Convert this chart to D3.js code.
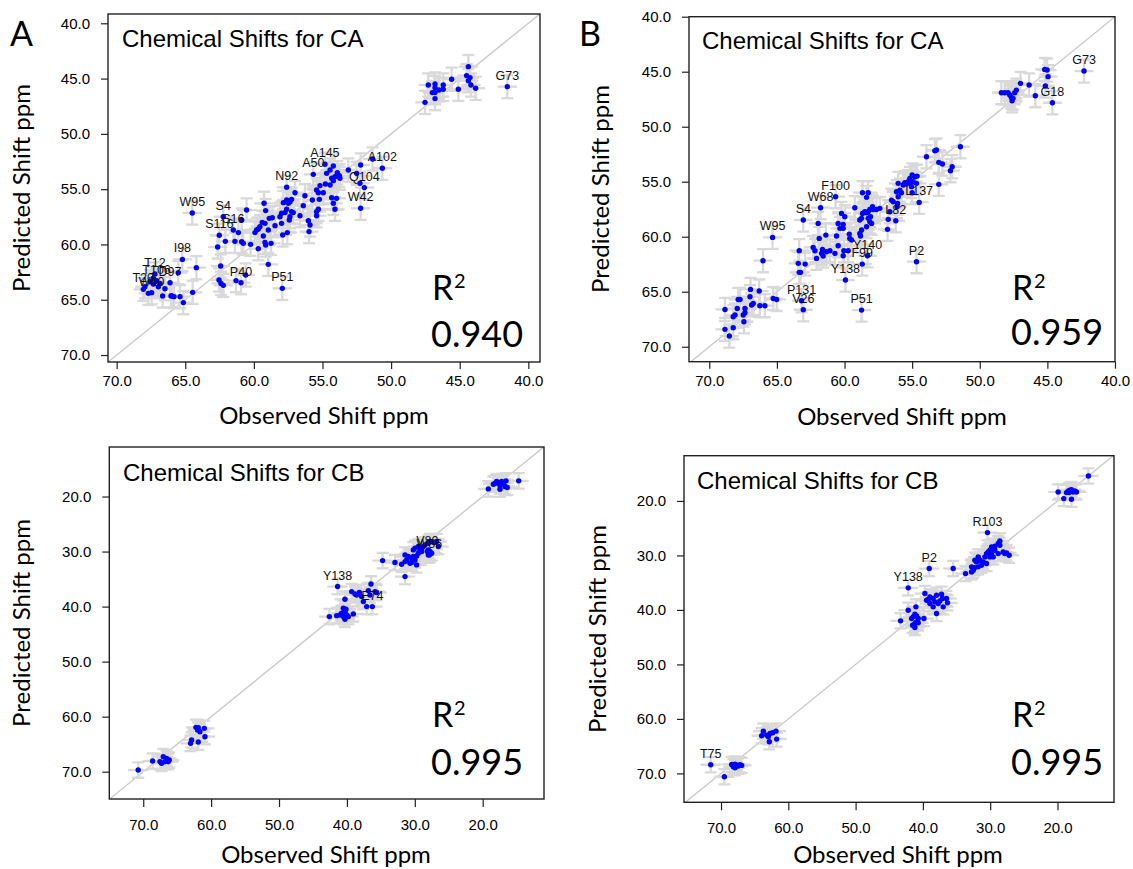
<!DOCTYPE html>
<html><head><meta charset="utf-8">
<script src="https://cdn.jsdelivr.net/npm/d3@7"></script>
<style>body{margin:0;background:#fff}</style>
</head><body>
<svg id="c" width="1133" height="869"></svg>
<script>
// ---------- tick labels ----------
const caTicks = [70, 65, 60, 55, 50, 45, 40];
const cbTicks = [70, 60, 50, 40, 30, 20];

// ---------- R^2 values ----------
const r2Values = ["0.940", "0.959", "0.995", "0.995"];

// ---------- error bar half-widths (ppm) ----------
const caErr = [0.7, 1.05];   // [observed, predicted]
const cbErr = [1.5, 1.4];

// ---------- Panel A, CA : [observed, predicted] ----------
const aCA_points = [
 [44.37,43.92],[44.50,44.73],[44.25,44.91],[44.37,45.19],[44.18,45.58],[43.84,45.88],[45.59,45.06],[45.10,45.97],
 [46.20,45.58],[46.20,45.97],[46.51,46.03],[46.80,45.49],[46.80,45.82],[47.29,45.58],[47.00,46.27],[46.80,46.27],
 [46.80,46.81],[47.53,47.15],[41.53,45.73],
 [51.35,52.27],[50.64,53.11],[52.22,52.81],[53.12,53.27],[52.51,53.57],[52.27,54.47],[51.95,54.86],[52.22,56.73],
 [54.21,52.90],[54.45,53.27],[54.70,53.57],[53.92,53.51],[53.77,53.78],[53.73,54.02],[54.09,53.87],[54.33,54.02],
 [54.21,54.23],[54.82,52.75],[55.67,53.66],[55.18,54.68],[55.43,55.07],[55.30,55.32],[54.94,55.32],[54.79,54.53],
 [54.45,54.62],[54.33,55.77],[53.97,55.83],[54.21,56.28],[54.09,56.82],[55.23,55.92],[55.30,56.82],[55.43,57.03],
 [55.43,57.40],[56.03,57.85],[55.91,58.24],[55.98,58.84],[55.74,55.98],[56.28,55.59],[56.40,56.49],[56.64,57.40],
 [57.00,55.32],[57.25,55.92],[57.37,56.13],[57.61,55.98],[57.61,54.83],[57.49,56.28],[57.85,56.22],[57.61,56.82],
 [57.73,57.12],[57.98,57.18],[58.10,57.49],[57.25,57.03],[57.13,57.12],[57.37,57.49],[57.42,57.79],[57.98,58.09],
 [57.56,58.93],[57.90,59.14],[58.46,58.30],[58.66,57.58],[58.88,57.64],[59.14,56.94],[59.26,56.28],[59.19,58.09],
 [59.39,58.00],[59.56,58.39],[59.80,58.69],[59.92,58.93],[59.68,58.60],[59.31,59.23],[59.19,59.81],[59.14,60.05],
 [58.95,58.69],[58.75,59.90],[59.68,60.38],[60.24,59.99],[60.53,56.88],[60.77,59.90],[60.89,59.75],[60.89,57.79],
 [61.13,58.93],[61.38,59.72],[61.50,58.69],[62.08,59.72],[62.52,59.17],[62.64,60.23],[62.23,57.49],[64.49,57.15],
 [62.42,61.95],[62.54,63.21],[62.40,63.52],[62.23,63.70],[61.30,63.27],[60.94,63.46],[60.60,62.76],[58.95,61.80],
 [57.93,63.97],[64.19,62.10],[65.21,61.35],[65.51,62.55],[64.46,64.33],[65.14,65.26],[65.38,64.72],[65.82,64.72],
 [65.99,64.63],[66.11,63.46],[66.04,64.66],[66.48,64.00],[66.65,64.66],[66.84,63.52],[66.96,63.82],[67.21,62.67],
 [67.33,63.06],[67.09,63.27],[67.33,63.58],[67.45,64.36],[67.69,64.42],[68.06,64.06],[67.94,63.82],[67.57,63.37]
];
const aCA_labels = [
 ["G73",41.53,45.73],["A102",50.64,53.11],["Q104",51.95,54.86],["W42",52.22,56.73],["A145",54.82,52.75],
 ["A50",55.67,53.66],["N92",57.61,54.83],["W95",64.49,57.15],["S4",62.23,57.49],["S16",61.50,58.69],
 ["S116",62.52,59.17],["I98",65.21,61.35],["P40",60.94,63.46],["P51",57.93,63.97],["T12",67.21,62.67],
 ["T106",67.09,63.27],["D97",66.11,63.46],["T20",68.06,64.06],["W40",67.45,64.36]
];

// ---------- Panel B, CA ----------
const bCA_points = [
 [45.20,44.79],[45.02,44.85],[44.95,45.45],[45.15,46.30],[46.35,46.21],[46.99,46.06],[47.29,46.67],[47.41,46.91],
 [48.40,46.91],[48.15,46.91],[47.91,46.91],[47.78,47.12],[47.66,47.33],[47.61,47.64],[47.54,47.42],[45.89,47.18],
 [44.63,47.82],[42.29,44.94],
 [51.43,51.82],[53.20,52.12],[53.32,52.18],[53.94,52.73],[53.03,53.24],[52.76,53.39],[52.04,53.64],[52.17,54.00],
 [53.03,55.24],[55.00,54.39],[55.17,54.70],[54.80,54.55],[54.63,54.49],[54.93,55.00],[55.30,55.00],[55.54,55.09],
 [55.66,55.30],[55.42,55.21],[55.12,55.15],[54.68,55.15],[55.05,55.45],[56.03,55.15],[56.16,55.91],[55.91,55.76],
 [55.79,56.00],[55.00,56.00],[54.48,56.88],[56.53,56.67],[56.40,56.82],[56.03,56.36],[56.08,56.97],[56.11,57.27],
 [56.65,57.73],[56.77,58.42],[56.21,58.55],[56.82,59.33],[57.39,57.42],[57.64,57.52],[57.88,57.52],[57.93,57.27],
 [58.13,57.52],[58.25,57.73],[58.37,57.82],[58.50,57.73],[58.67,57.88],[58.08,58.18],[58.25,58.33],[58.13,58.64],
 [58.00,58.79],[58.37,59.09],[58.74,58.33],[58.87,58.48],[58.74,59.39],[58.87,59.70],[58.82,59.94],[59.24,57.36],
 [58.67,56.00],[58.25,56.00],[58.37,56.42],[59.98,58.18],[60.22,57.88],[60.47,58.79],[60.10,58.88],[60.34,59.24],
 [60.10,59.24],[60.59,59.94],[59.65,59.76],[59.48,60.30],[59.61,60.15],[60.47,60.82],[60.05,61.27],[59.73,61.27],
 [60.10,61.73],[60.71,61.52],[61.08,61.27],[61.33,61.36],[61.63,61.15],[61.58,61.76],[61.70,61.52],[62.07,61.97],
 [62.19,61.27],[62.32,60.97],[61.87,60.15],[61.38,59.85],[61.95,58.79],[60.66,56.36],[61.77,57.36],[63.05,58.48],
 [65.32,60.06],[58.30,61.73],[58.69,62.49],[59.93,63.94],[54.68,62.27],[63.18,65.82],[63.05,66.64],[58.74,66.67],
 [63.35,61.27],[63.42,62.42],[62.91,62.49],[63.35,63.24],[63.25,63.24],[66.03,62.18],[66.31,64.94],[66.95,64.79],
 [67.73,65.70],[67.86,65.70],[65.02,65.70],[65.27,65.61],[65.89,66.27],[66.26,66.27],[66.75,66.06],[66.87,66.21],
 [66.99,65.45],[67.36,66.52],[67.36,66.91],[67.49,67.12],[67.44,67.73],[67.93,66.52],[68.10,67.12],[68.23,67.27],
 [68.84,66.61],[68.84,68.42],[68.52,69.03],[68.23,68.27]
];
const bCA_labels = [
 ["G73",42.29,44.94],["G18",44.63,47.82],["L137",54.48,56.88],["L82",56.21,58.55],["F100",60.66,56.36],
 ["W68",61.77,57.36],["S4",63.05,58.48],["W95",65.32,60.06],["Y140",58.30,61.73],["F99",58.69,62.49],
 ["Y138",59.93,63.94],["P2",54.68,62.27],["P131",63.18,65.82],["V26",63.05,66.64],["P51",58.74,66.67]
];

// ---------- Panel A, CB ----------
const aCB_points = [
 [19.17,18.61],[18.43,17.76],[17.94,17.27],[17.69,17.58],[17.45,18.06],[17.20,17.27],[16.96,17.58],[16.56,17.15],
 [16.37,18.36],[16.71,18.18],[17.45,18.67],[14.70,17.15],[18.18,17.58],
 [30.22,29.70],[29.97,29.39],[29.48,29.09],[29.23,29.70],[28.99,29.52],[28.74,29.09],[28.50,28.79],[28.01,28.48],
 [27.76,28.18],[27.27,28.30],[26.78,28.18],[26.53,29.09],[28.01,29.70],[27.76,30.00],[27.52,30.30],[28.01,30.61],
 [28.99,30.00],[29.48,30.30],[29.73,30.79],[30.22,30.91],[30.46,31.21],[30.95,30.91],[31.20,31.52],[31.44,30.61],
 [29.97,31.52],[30.46,32.00],[30.71,32.12],[31.44,31.82],[29.73,32.42],[31.94,32.30],[32.92,32.00],[34.74,31.64],
 [31.44,34.55],[28.15,30.00],[27.86,30.61],
 [41.37,36.36],[39.30,37.27],[38.81,37.70],[38.57,37.88],[38.17,37.45],[37.83,38.18],[37.58,39.09],[36.85,37.09],
 [36.45,35.88],[35.62,37.45],[35.86,37.27],[37.09,40.00],[36.26,40.00],[36.60,37.88],[40.29,38.67],[40.53,40.30],
 [40.14,40.48],[40.29,40.91],[40.78,41.21],[41.02,41.52],[40.04,41.52],[40.29,42.30],[41.51,41.64],[42.59,41.82],
 [39.06,41.33],[39.79,41.82],[40.53,41.82],
 [62.24,61.94],[61.90,62.00],[61.01,62.12],[61.65,62.73],[61.99,62.42],[60.91,63.64],[62.88,64.24],[63.03,64.85],
 [61.90,64.61],
 [67.05,67.27],[66.56,67.58],[66.32,68.18],[66.81,68.18],[67.30,68.48],[67.54,68.18],[66.17,67.88],[68.62,68.06],
 [70.74,69.70]
];
const aCB_labels = [
 ["Y138",41.37,36.36],["E74",36.26,40.00],["V80",28.15,30.00],["W86",27.86,30.61]
];

// ---------- Panel B, CB ----------
const bCB_points = [
 [15.40,15.42],[19.90,18.35],[18.66,18.47],[18.42,18.23],[18.17,18.04],[17.92,17.92],[17.67,18.35],[17.43,18.17],
 [17.18,18.35],[17.92,19.69],[19.06,19.57],[18.27,18.47],
 [30.40,25.81],[28.56,27.34],[28.81,27.82],[29.31,28.31],[29.80,28.44],[28.56,28.13],[29.31,29.05],[30.05,29.05],
 [30.30,29.35],[30.54,29.66],[29.80,29.66],[28.81,29.66],[28.07,29.35],[27.57,29.54],[27.18,29.96],[27.82,29.66],
 [29.55,30.27],[30.05,30.27],[30.79,30.27],[31.78,30.27],[31.53,30.88],[31.04,31.19],[32.03,31.19],[32.28,30.88],
 [30.54,31.49],[31.29,31.80],[31.78,32.10],[32.28,32.23],[32.77,32.10],[32.52,32.71],[32.77,33.02],[33.66,33.33],
 [35.50,32.41],[39.06,32.41],
 [42.18,35.95],[39.70,36.99],[38.96,37.60],[38.47,37.91],[37.97,37.30],[37.23,37.12],[37.08,37.91],[36.49,37.91],
 [36.34,38.70],[36.98,39.44],[37.72,38.83],[38.22,38.52],[38.47,39.44],[38.96,38.83],[39.21,38.09],[37.97,40.66],
 [39.46,38.22],[37.48,38.34],[41.04,39.44],[42.18,40.05],[41.19,40.78],[40.94,41.09],[41.44,41.27],[41.68,41.58],
 [40.69,41.58],[40.94,42.19],[41.19,42.49],[40.69,42.37],[39.85,41.58],[43.32,42.00],[41.19,43.23],[41.53,42.80],
 [63.71,62.24],[63.22,62.97],[62.72,62.67],[62.33,62.54],[61.83,62.24],[61.73,63.70],[63.96,63.09],[62.82,64.19],
 [62.97,63.28],
 [71.53,68.41],[68.42,68.35],[68.17,68.78],[67.92,68.29],[67.67,68.47],[67.43,68.66],[67.18,68.41],[66.93,68.53],
 [67.92,68.96],[69.50,70.61]
];
const bCB_labels = [
 ["R103",30.40,25.81],["P2",39.06,32.41],["Y138",42.18,35.95],["T75",71.53,68.41]
];

// ---------- drawing ----------
const svg = d3.select('#c');
const TICKF = "'Liberation Sans', Arial, sans-serif";
const CALF = "Lato, 'Open Sans', sans-serif";

const panels = [
 {pts:aCA_points, labs:aCA_labels, ticks:caTicks, err:caErr, r2:r2Values[0], title:"Chemical Shifts for CA",
  l:108, r:540, t:14, b:362, xd:[70.63,39.15], yd:[39.16,70.63],
  tx:122, ty:47, rx:432, ry:300, vy:347, xlabX:324, xlabY:424, ylabX:30, ylabY:188, xpad:6, ts:7},
 {pts:bCA_points, labs:bCA_labels, ticks:caTicks, err:caErr, r2:r2Values[1], title:"Chemical Shifts for CA",
  l:689, r:1115, t:16.7, b:361.7, xd:[71.5,40.0], yd:[40.0,71.36],
  tx:702, ty:49, rx:1012, ry:300, vy:345, xlabX:902, xlabY:425, ylabX:609, ylabY:189, xpad:7, ts:7},
 {pts:aCB_points, labs:aCB_labels, ticks:cbTicks, err:cbErr, r2:r2Values[2], title:"Chemical Shifts for CB",
  l:109.3, r:544, t:447, b:799, xd:[75.0,10.97], yd:[11.0,74.96],
  tx:123, ty:481, rx:432, ry:727, vy:775, xlabX:326, xlabY:863, ylabX:30, ylabY:623, xpad:12, ts:8},
 {pts:bCB_points, labs:bCB_labels, ticks:cbTicks, err:cbErr, r2:r2Values[3], title:"Chemical Shifts for CB",
  l:684, r:1114, t:455.7, b:802.3, xd:[75.5,11.6], yd:[11.7,75.3],
  tx:697, ty:489, rx:1012, ry:727, vy:775, xlabX:898, xlabY:863, ylabX:606, ylabY:629, xpad:12, ts:8}
];

panels.forEach((p, i) => {
  const x = d3.scaleLinear().domain(p.xd).range([p.l, p.r]);
  const y = d3.scaleLinear().domain(p.yd).range([p.t, p.b]);
  const g = svg.append('g');
  const cid = 'clip' + i;
  svg.append('defs').append('clipPath').attr('id', cid)
     .append('rect').attr('x', p.l).attr('y', p.t).attr('width', p.r - p.l).attr('height', p.b - p.t);
  const inner = g.append('g').attr('clip-path', `url(#${cid})`);

  // identity line
  const lo = Math.min(p.xd[0], p.xd[1], p.yd[0], p.yd[1]);
  const hi = Math.max(p.xd[0], p.xd[1], p.yd[0], p.yd[1]);
  inner.append('line').attr('x1', x(lo)).attr('y1', y(lo)).attr('x2', x(hi)).attr('y2', y(hi))
       .attr('stroke', '#c8c8c8').attr('stroke-width', 1.3);

  // error bars
  const eb = inner.append('g').attr('stroke', '#d9d9d9').attr('stroke-width', 2.3).attr('fill', 'none');
  const ex = p.err[0], ey = p.err[1];
  p.pts.forEach(d => {
    const cx = x(d[0]), cy = y(d[1]);
    eb.append('line').attr('x1', x(d[0] - ex)).attr('x2', x(d[0] + ex)).attr('y1', cy).attr('y2', cy);
    eb.append('line').attr('x1', cx).attr('x2', cx).attr('y1', y(d[1] - ey)).attr('y2', y(d[1] + ey));
    eb.append('line').attr('x1', cx - 6).attr('x2', cx + 6).attr('y1', y(d[1] - ey)).attr('y2', y(d[1] - ey));
    eb.append('line').attr('x1', cx - 6).attr('x2', cx + 6).attr('y1', y(d[1] + ey)).attr('y2', y(d[1] + ey));
  });

  // points
  inner.append('g').selectAll('circle').data(p.pts).join('circle')
    .attr('cx', d => x(d[0])).attr('cy', d => y(d[1])).attr('r', 2.7).attr('fill', '#0000ff');

  // point labels
  g.append('g').selectAll('text').data(p.labs).join('text')
    .attr('x', d => x(d[1])).attr('y', d => y(d[2]) - 7)
    .attr('text-anchor', 'middle').attr('font-family', TICKF).attr('font-size', 12.5).attr('fill', '#111')
    .text(d => d[0]);

  // box
  g.append('rect').attr('x', p.l).attr('y', p.t).attr('width', p.r - p.l).attr('height', p.b - p.t)
    .attr('fill', 'none').attr('stroke', '#222').attr('stroke-width', 1.4);

  // axes
  const fmt = d3.format('.1f');
  const ax = g.append('g').attr('transform', `translate(0,${p.b})`)
    .call(d3.axisBottom(x).tickValues(p.ticks).tickFormat(fmt).tickSize(p.ts).tickPadding(p.xpad));
  const ay = g.append('g').attr('transform', `translate(${p.l},0)`)
    .call(d3.axisLeft(y).tickValues(p.ticks).tickFormat(fmt).tickSize(7).tickPadding(11));
  [ax, ay].forEach(a => {
    a.select('.domain').remove();
    a.selectAll('line').attr('stroke', '#222').attr('stroke-width', 1.2);
    a.selectAll('text').attr('font-family', TICKF).attr('font-size', 15).attr('fill', '#000');
  });

  // title
  g.append('text').attr('x', p.tx).attr('y', p.ty).attr('font-family', TICKF).attr('font-size', 24)
    .attr('fill', '#000').text(p.title);

  // R^2
  g.append('text').attr('x', p.rx).attr('y', p.ry).attr('font-family', CALF).attr('font-size', 34)
    .attr('fill', '#000').text('R');
  g.append('text').attr('x', p.rx + 22).attr('y', p.ry - 12).attr('font-family', CALF).attr('font-size', 20)
    .attr('fill', '#000').text('2');
  g.append('text').attr('x', p.rx - 1).attr('y', p.vy).attr('font-family', CALF).attr('font-size', 36)
    .attr('fill', '#000').text(p.r2);

  // axis titles
  g.append('text').attr('x', p.xlabX).attr('y', p.xlabY).attr('text-anchor', 'middle')
    .attr('font-family', CALF).attr('font-size', 24).attr('fill', '#000').text('Observed Shift ppm');
  g.append('text').attr('transform', `translate(${p.ylabX},${p.ylabY}) rotate(-90)`).attr('text-anchor', 'middle')
    .attr('font-family', CALF).attr('font-size', 24).attr('fill', '#000').text('Predicted Shift ppm');
});

// panel letters
svg.append('text').attr('x', 10).attr('y', 46).attr('font-family', CALF).attr('font-size', 34).text('A');
svg.append('text').attr('x', 579).attr('y', 46).attr('font-family', CALF).attr('font-size', 34).text('B');
</script>
</body></html>
